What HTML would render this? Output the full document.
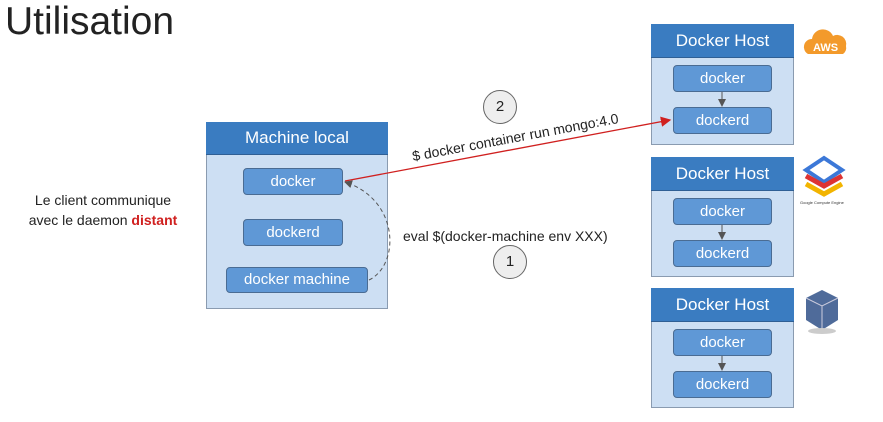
<!DOCTYPE html>
<html><head><meta charset="utf-8"><style>
body{margin:0;width:883px;height:422px;background:#fff;overflow:hidden;position:relative;font-family:"Liberation Sans",sans-serif}
.a{position:absolute;box-sizing:border-box}
.box{border:1px solid #8a9bb0;background:#cddff3}
.hd{background:#3a7cc1;color:#fff;text-align:center;font-size:17px;border-bottom:1px solid #2f5f94}
.in{background:#5f98d6;border:1px solid #4a6c93;border-radius:4px;color:#fff;text-align:center;font-size:15px}
.c{border:1px solid #666;border-radius:50%;background:#eee;text-align:center;font-size:15px;color:#222}
</style></head><body>
<div class="a" style="left:5px;top:0px;font-size:39px;color:#222">Utilisation</div>
<div class="a" style="left:10px;top:190px;width:186px;text-align:center;font-size:14px;line-height:20px;color:#222">Le client communique<br>avec le daemon <b style="color:#d0201f">distant</b></div>

<div class="a box" style="left:206px;top:122px;width:182px;height:187px"></div>
<div class="a hd" style="left:206px;top:122px;width:182px;height:33px;line-height:32px">Machine local</div>
<div class="a in" style="left:243px;top:168px;width:100px;height:27px;line-height:25px">docker</div>
<div class="a in" style="left:243px;top:219px;width:100px;height:27px;line-height:25px">dockerd</div>
<div class="a in" style="left:226px;top:267px;width:142px;height:26px;line-height:24px">docker machine</div>

<div class="a box" style="left:651px;top:24px;width:143px;height:121px"></div>
<div class="a hd" style="left:651px;top:24px;width:143px;height:34px;line-height:34px">Docker Host</div>
<div class="a in" style="left:673px;top:65px;width:99px;height:27px;line-height:25px">docker</div>
<div class="a in" style="left:673px;top:107px;width:99px;height:27px;line-height:25px">dockerd</div>

<div class="a box" style="left:651px;top:157px;width:143px;height:120px"></div>
<div class="a hd" style="left:651px;top:157px;width:143px;height:34px;line-height:34px">Docker Host</div>
<div class="a in" style="left:673px;top:198px;width:99px;height:27px;line-height:25px">docker</div>
<div class="a in" style="left:673px;top:240px;width:99px;height:27px;line-height:25px">dockerd</div>

<div class="a box" style="left:651px;top:288px;width:143px;height:120px"></div>
<div class="a hd" style="left:651px;top:288px;width:143px;height:34px;line-height:34px">Docker Host</div>
<div class="a in" style="left:673px;top:329px;width:99px;height:27px;line-height:25px">docker</div>
<div class="a in" style="left:673px;top:371px;width:99px;height:27px;line-height:25px">dockerd</div>

<svg class="a" style="left:0;top:0" width="883" height="422">
<defs><marker id="r" markerWidth="8" markerHeight="8" refX="7" refY="4" orient="auto"><path d="M0,0L8,4L0,8z" fill="#d0201f"/></marker>
<marker id="g" markerWidth="8" markerHeight="8" refX="7" refY="4" orient="auto"><path d="M0,0L8,4L0,8z" fill="#555"/></marker></defs>
<line x1="345" y1="181" x2="670" y2="120" stroke="#d0201f" stroke-width="1.3" marker-end="url(#r)"/>
<path d="M369,280 C400,265 400,200 345,182" fill="none" stroke="#555" stroke-dasharray="4,3" marker-end="url(#g)"/>
<g stroke="#555" marker-end="url(#g)"><line x1="722" y1="92" x2="722" y2="106"/><line x1="722" y1="225" x2="722" y2="239"/><line x1="722" y1="356" x2="722" y2="370"/></g>
<path d="M808,54 a8,8 0 0,1 4,-15 a11,11 0 0,1 21,-3 a9,9 0 0,1 13,10 a8,8 0 0,1 -3,8z" fill="#f39a2b"/>
<text x="813" y="51" font-family="Liberation Sans" font-size="11" font-weight="bold" fill="#fff">AWS</text>
<path d="M806,170 l18,-12 l18,12 l-18,12z" fill="none" stroke="#3c78d8" stroke-width="4"/>
<path d="M806,176 l18,10 l18,-10" fill="none" stroke="#d33" stroke-width="5"/>
<path d="M806,184 l18,10 l18,-10" fill="none" stroke="#f2b400" stroke-width="5"/>
<text x="800" y="204" font-family="Liberation Sans" font-size="4" fill="#333">Google Compute Engine</text>
<path d="M806,298 l16,-8 l16,8 v22 l-16,10 l-16,-10z" fill="#4f6b9a"/>
<path d="M806,298 l16,8 l16,-8 M822,306 v24" stroke="#ccd" fill="none"/>
<ellipse cx="822" cy="331" rx="14" ry="3" fill="#ccc"/>
</svg>
<div class="a c" style="left:483px;top:90px;width:34px;height:34px;line-height:32px">2</div>
<div class="a c" style="left:493px;top:245px;width:34px;height:34px;line-height:32px">1</div>
<div class="a" style="left:414px;top:148px;font-size:14px;line-height:17px;color:#222;transform:rotate(-10.5deg);transform-origin:0 100%;white-space:nowrap">$ docker container run mongo:4.0</div>
<div class="a" style="left:403px;top:228px;font-size:14px;color:#222;white-space:nowrap">eval $(docker-machine env XXX)</div>
</body></html>
